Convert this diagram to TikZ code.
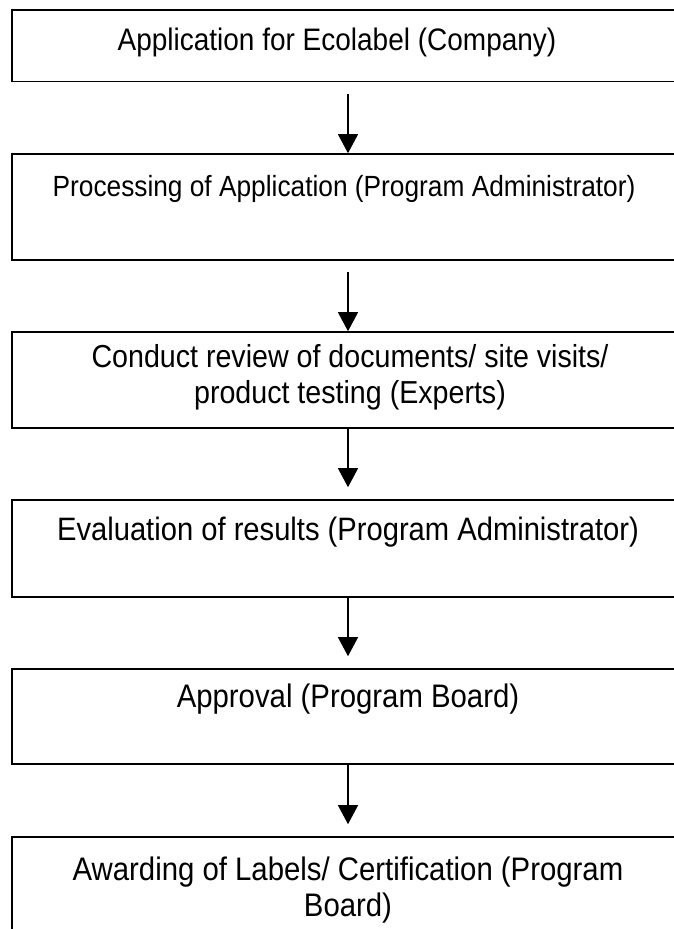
\documentclass[tikz,border=0pt]{standalone}
\usepackage{fontspec}
\setmainfont[FakeStretch=0.9]{Liberation Sans}
\usetikzlibrary{arrows.meta}
\begin{document}
\begin{tikzpicture}[x=1pt,y=-1pt,
  stepbox/.style={draw=black, line width=1.6pt, rectangle, minimum width=672pt, inner sep=0pt},
  steptext/.style={anchor=base, align=center, inner sep=0pt},
  flow/.style={line width=1.2pt, -{Triangle[length=19pt,width=20pt]}}]
\useasboundingbox (0,0) rectangle (674,929);
\clip (0,0) rectangle (674,929);
% boxes (they run past the right and bottom edges)
\node[stepbox, minimum height=71.3pt] (b1) at (348,45.65) {};
\node[stepbox, minimum height=106pt]  (b2) at (348,207) {};
\node[stepbox, minimum height=96pt]   (b3) at (348,380) {};
\node[stepbox, minimum height=97pt]   (b4) at (348,548.5) {};
\node[stepbox, minimum height=95pt]   (b5) at (348,716.5) {};
\node[stepbox, minimum height=123pt]  (b6) at (348,898.5) {};
% texts (base anchor = baseline of the last line)
\node[steptext, font=\fontsize{31.1}{36}\selectfont] (t1) at (337,50) {Application for Ecolabel (Company)};
\node[steptext, font=\fontsize{29.2}{36}\selectfont] (t2) at (344,196) {Processing of Application (Program Administrator)};
\node[steptext, font=\fontsize{31.8}{36}\selectfont] (t3) at (350,403) {Conduct review of documents/ site visits/\\product testing (Experts)};
\node[steptext, font=\fontsize{32.4}{36}\selectfont] (t4) at (348,540) {Evaluation of results (Program Administrator)};
\node[steptext, font=\fontsize{32.6}{36}\selectfont] (t5) at (348,707) {Approval (Program Board)};
\node[steptext, font=\fontsize{32.6}{36}\selectfont] (t6) at (348,916) {Awarding of Labels/ Certification (Program\\Board)};
% connectors
\draw[flow] ([yshift=-12pt]b1.south) -- (b2.north);
\draw[flow] ([yshift=-11pt]b2.south) -- (b3.north);
\draw[flow] (b3.south) -- ([yshift=12pt]b4.north);
\draw[flow] (b4.south) -- ([yshift=12pt]b5.north);
\draw[flow] (b5.south) -- ([yshift=12pt]b6.north);
\end{tikzpicture}
\end{document}
